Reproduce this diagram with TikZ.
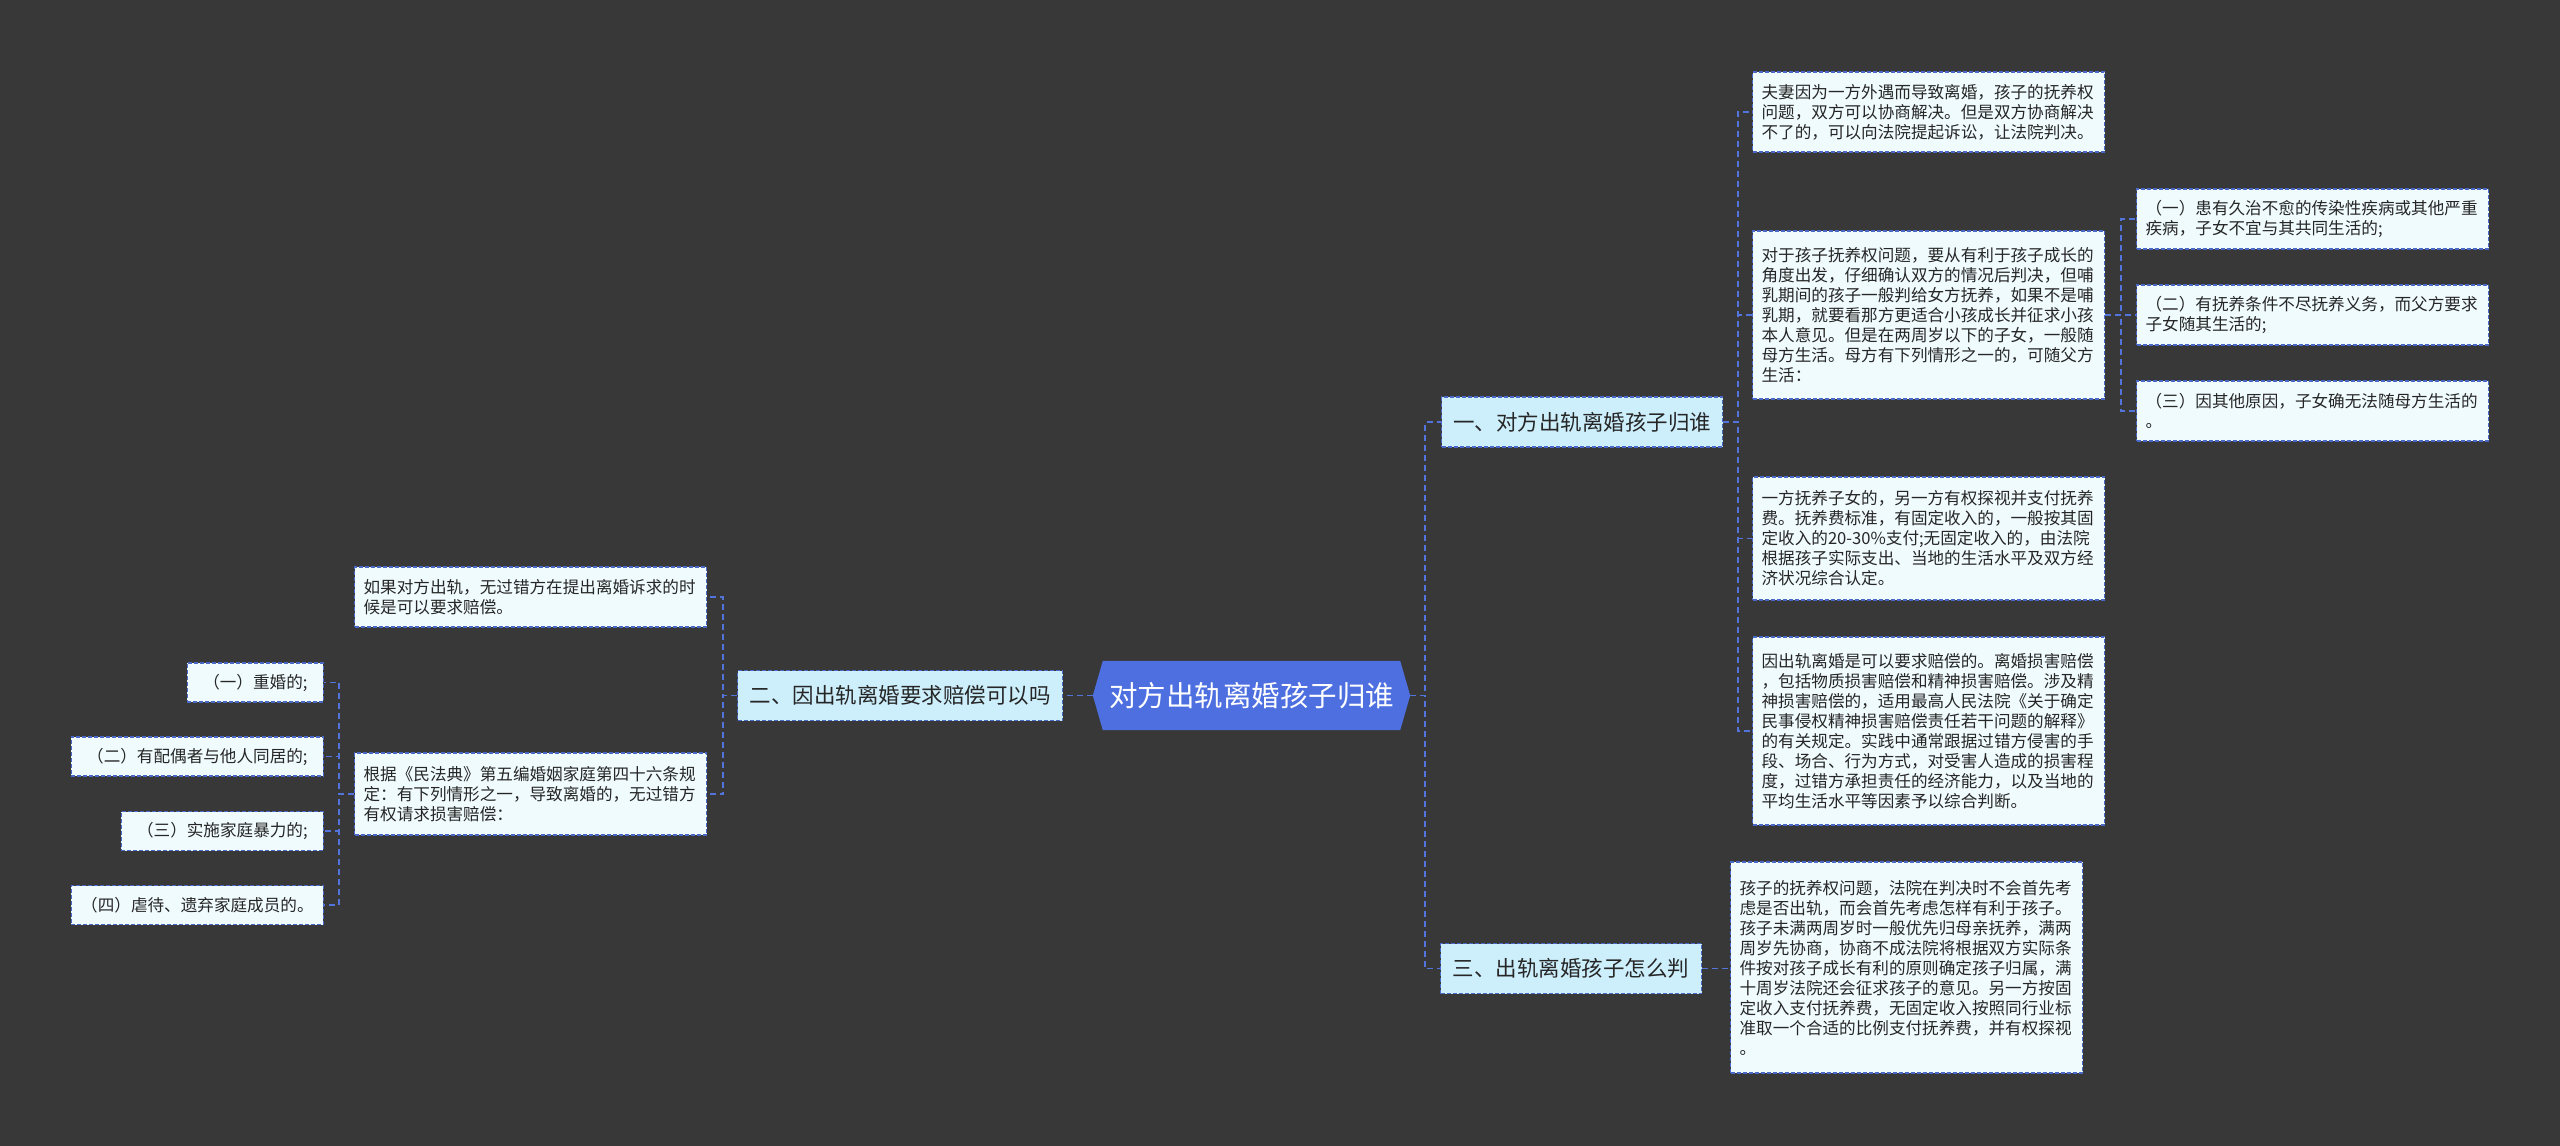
\documentclass[tikz,border=0pt]{standalone}
\usepackage{fontspec}
\newfontfamily\cjk{Noto Sans CJK SC}
\usetikzlibrary{backgrounds}
\definecolor{bgc}{HTML}{383838}
\definecolor{rootc}{HTML}{4D6FE0}
\definecolor{lvc}{HTML}{CDEFFC}
\definecolor{leafc}{HTML}{F0FBFE}
\definecolor{bordc}{HTML}{4A68C8}
\definecolor{linec}{HTML}{5274DC}
\definecolor{txtc}{HTML}{262626}
\begin{document}
\begin{tikzpicture}[x=1pt,y=-1pt,
  box/.style={draw=bordc, line width=1.2pt, dash pattern=on 4pt off 2pt, text=txtc, inner sep=0pt},
  lvone/.style={box, fill=lvc, font=\cjk\fontsize{21.5}{26}\selectfont, minimum height=50pt, anchor=west, align=center},
  leaf/.style={box, fill=leafc, font=\cjk\fontsize{16.6}{20}\selectfont, text width=334pt, inner xsep=9pt, align=left, anchor=west},
  item/.style={box, fill=leafc, font=\cjk\fontsize{16.6}{20}\selectfont, minimum height=39pt, anchor=east, align=center},
  conn/.style={draw=linec, line width=1.8pt, dash pattern=on 6pt off 4pt}]
\useasboundingbox (0,0) rectangle (2560,1146);

% root
\node[minimum width=317pt, minimum height=69pt, inner sep=0pt, text=white,
      font=\cjk\fontsize{28.5}{34}\selectfont] (root) at (1251.5,695.5) {对方出轨离婚孩子归谁};
\begin{scope}[on background layer]
  \fill[bgc] (0,0) rectangle (2560,1146);
  \fill[rootc] (root.west) -- ([xshift=10pt]root.north west) -- ([xshift=-10pt]root.north east)
     -- (root.east) -- ([xshift=-10pt]root.south east) -- ([xshift=10pt]root.south west) -- cycle;
\end{scope}

% level one
\node[lvone, minimum width=281pt] (n1) at (1441,422) {一、对方出轨离婚孩子归谁};
\node[lvone, minimum width=261pt] (n3) at (1440,968.5) {三、出轨离婚孩子怎么判};
\node[lvone, minimum width=325pt] (n2) at (737,695.5) {二、因出轨离婚要求赔偿可以吗};

% leaves of n1
\node[leaf, minimum height=80pt] (L1) at (1752,112) {夫妻因为一方外遇而导致离婚，孩子的抚养权\\问题，双方可以协商解决。但是双方协商解决\\不了的，可以向法院提起诉讼，让法院判决。};
\node[leaf, minimum height=168pt] (L2) at (1752,315) {对于孩子抚养权问题，要从有利于孩子成长的\\角度出发，仔细确认双方的情况后判决，但哺\\乳期间的孩子一般判给女方抚养，如果不是哺\\乳期，就要看那方更适合小孩成长并征求小孩\\本人意见。但是在两周岁以下的子女，一般随\\母方生活。母方有下列情形之一的，可随父方\\生活：};
\node[leaf, minimum height=123pt] (L3) at (1752,538.5) {一方抚养子女的，另一方有权探视并支付抚养\\费。抚养费标准，有固定收入的，一般按其固\\定收入的20-30\%支付;无固定收入的，由法院\\根据孩子实际支出、当地的生活水平及双方经\\济状况综合认定。};
\node[leaf, minimum height=188pt] (L4) at (1752,731) {因出轨离婚是可以要求赔偿的。离婚损害赔偿\\，包括物质损害赔偿和精神损害赔偿。涉及精\\神损害赔偿的，适用最高人民法院《关于确定\\民事侵权精神损害赔偿责任若干问题的解释》\\的有关规定。实践中通常跟据过错方侵害的手\\段、场合、行为方式，对受害人造成的损害程\\度，过错方承担责任的经济能力，以及当地的\\平均生活水平等因素予以综合判断。};

% children of L2
\node[leaf, minimum height=60pt] (C1) at (2136,219) {（一）患有久治不愈的传染性疾病或其他严重\\疾病，子女不宜与其共同生活的;};
\node[leaf, minimum height=60pt] (C2) at (2136,315) {（二）有抚养条件不尽抚养义务，而父方要求\\子女随其生活的;};
\node[leaf, minimum height=60pt] (C3) at (2136,411) {（三）因其他原因，子女确无法随母方生活的\\。};

% leaf of n3
\node[leaf, minimum height=211pt] (M1) at (1730,967.5) {孩子的抚养权问题，法院在判决时不会首先考\\虑是否出轨，而会首先考虑怎样有利于孩子。\\孩子未满两周岁时一般优先归母亲抚养，满两\\周岁先协商，协商不成法院将根据双方实际条\\件按对孩子成长有利的原则确定孩子归属，满\\十周岁法院还会征求孩子的意见。另一方按固\\定收入支付抚养费，无固定收入按照同行业标\\准取一个合适的比例支付抚养费，并有权探视\\。};

% leaves of n2
\node[leaf, minimum height=60pt] (D1) at (354,597) {如果对方出轨，无过错方在提出离婚诉求的时\\候是可以要求赔偿。};
\node[leaf, minimum height=82pt] (D2) at (354,794) {根据《民法典》第五编婚姻家庭第四十六条规\\定：有下列情形之一，导致离婚的，无过错方\\有权请求损害赔偿：};

% items of D2
\node[item, minimum width=136pt] (E1) at (324,682.5) {（一）重婚的;};
\node[item, minimum width=252pt] (E2) at (324,756.5) {（二）有配偶者与他人同居的;};
\node[item, minimum width=202pt] (E3) at (324,831) {（三）实施家庭暴力的;};
\node[item, minimum width=252pt] (E4) at (324,905) {（四）虐待、遗弃家庭成员的。};

% connectors
\draw[conn] (root.east) -- ++(15,0) |- (n1.west);
\draw[conn] (root.east) -- ++(15,0) |- (n3.west);
\draw[conn] (root.west) -- (n2.east);
\foreach \t in {L1,L2,L3,L4} \draw[conn] (n1.east) -- ++(15,0) |- (\t.west);
\foreach \t in {C1,C2,C3} \draw[conn] (L2.east) -- ++(16,0) |- (\t.west);
\draw[conn] (n3.east) -- (M1.west |- n3.east);
\foreach \t in {D1,D2} \draw[conn] (n2.west) -- ++(-14,0) |- (\t.east);
\foreach \t in {E1,E2,E3,E4} \draw[conn] (D2.west) -- ++(-15,0) |- (\t.east);
\end{tikzpicture}
\end{document}
